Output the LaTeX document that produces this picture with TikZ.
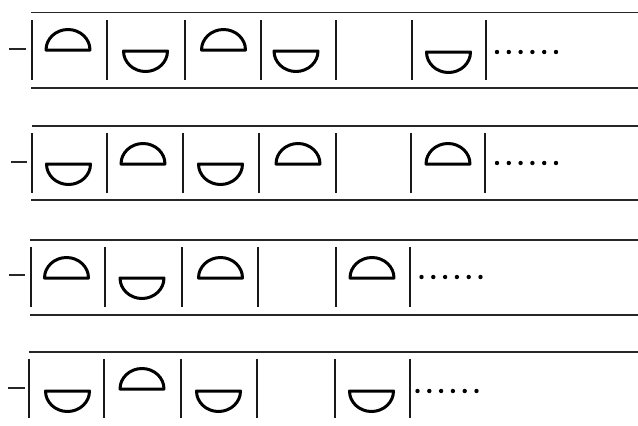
\documentclass[tikz,border=0pt]{standalone}
\begin{document}
\begin{tikzpicture}[x=1pt,y=-1pt,
  rule/.style={line width=1.4pt,black!85},
  bar/.style={line width=1.5pt,black!90},
  dome/.style={line width=3pt,black,line join=round},
  minus/.style={line width=1.5pt,black!85},
  dotmark/.style={fill=black,draw=none},
  pics/domeup/.style={code={\draw[dome] (-22,0) -- (22,0) arc[start angle=0,end angle=180,x radius=22pt,y radius=20.5pt] -- cycle;}},
  pics/domedown/.style={code={\draw[dome] (-22,0) -- (22,0) arc[start angle=0,end angle=-180,x radius=22pt,y radius=20.5pt] -- cycle;}},
  pics/dotrow/.style={code={\foreach \k in {0,...,5} \fill[dotmark] (\k*11.8,0) circle[radius=2.2pt];}}
]
\useasboundingbox (0,0) rectangle (638,426);
% Row 1
\draw[rule] (31,12.5) -- (638,12.5);
\draw[rule] (31,88) -- (638,88);
\draw[minus] (9,49) -- (26,49);
\foreach \x in {32,107,185,261,336,412,486} \draw[bar] (\x,20) -- (\x,80);
\pic at (68,50) {domeup};
\pic at (145.5,51) {domedown};
\pic at (223.5,50) {domeup};
\pic at (296,51) {domedown};
\pic at (448.5,52) {domedown};
\pic at (497,52) {dotrow};
% Row 2
\draw[rule] (32,126) -- (638,126);
\draw[rule] (31,200) -- (638,200);
\draw[minus] (11,162) -- (27,162);
\foreach \x in {32,107,183,259,336,411,485} \draw[bar] (\x,133) -- (\x,193);
\pic at (68.5,164) {domedown};
\pic at (143,164) {domeup};
\pic at (220.5,164) {domedown};
\pic at (298,164) {domeup};
\pic at (448,164) {domeup};
\pic at (497,163) {dotrow};
% Row 3
\draw[rule] (30,240) -- (638,240);
\draw[rule] (30,315) -- (638,315);
\draw[minus] (9,275) -- (25,275);
\foreach \x in {31,105,182,258,336,410} \draw[bar] (\x,247) -- (\x,307);
\pic at (66.5,278) {domeup};
\pic at (142,278) {domedown};
\pic at (220.5,278) {domeup};
\pic at (372,278) {domeup};
\pic at (421.5,277) {dotrow};
% Row 4
\draw[rule] (29,352) -- (638,352);
\draw[minus] (8,388) -- (25,388);
\foreach \x in {29,104,181,257,335,410} \draw[bar] (\x,359) -- (\x,418);
\pic at (67.5,391) {domedown};
\pic at (142,389) {domeup};
\pic at (218.5,391) {domedown};
\pic at (371.5,391) {domedown};
\pic at (417.5,391) {dotrow};
\end{tikzpicture}
\end{document}
